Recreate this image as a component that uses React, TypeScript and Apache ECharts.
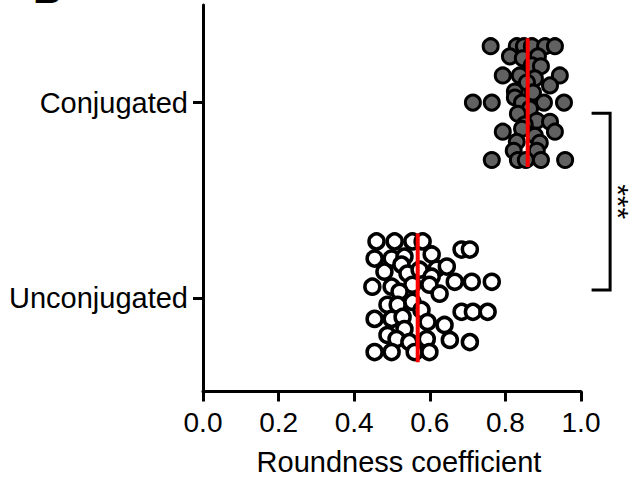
import React, { useEffect, useRef } from "react";
import * as echarts from "echarts";

// Categories (y positions: 0 = Unconjugated, 1 = Conjugated)
const categories = ["Unconjugated", "Conjugated"];

// Conjugated: roundness values and vertical scatter positions
const conjugatedValues = [
  0.761, 0.83, 0.849, 0.87, 0.905, 0.931, 0.812, 0.846, 0.886, 0.87, 0.894,
  0.793, 0.838, 0.878, 0.944, 0.857, 0.918, 0.825, 0.873, 0.714, 0.764,
  0.825, 0.844, 0.902, 0.955, 0.865, 0.833, 0.883, 0.918, 0.851, 0.793,
  0.844, 0.878, 0.931, 0.83, 0.891, 0.822, 0.883, 0.764, 0.833, 0.854,
  0.894, 0.958,
];
const conjugatedPos = [
  1.289, 1.289, 1.289, 1.289, 1.289, 1.289, 1.237, 1.227, 1.237, 1.191, 1.186,
  1.139, 1.139, 1.124, 1.139, 1.103, 1.088, 1.057, 1.052, 1.0, 1.0, 1.026,
  1.0, 1.0, 1.0, 0.969, 0.943, 0.907, 0.902, 0.887, 0.851, 0.866, 0.83,
  0.851, 0.799, 0.794, 0.753, 0.753, 0.706, 0.706, 0.706, 0.706, 0.706,
];

// Unconjugated: roundness values and vertical scatter positions
const unconjugatedValues = [
  0.459, 0.507, 0.554, 0.581, 0.684, 0.706, 0.454, 0.499, 0.533, 0.605, 0.525,
  0.618, 0.645, 0.48, 0.541, 0.573, 0.605, 0.448, 0.499, 0.554, 0.599, 0.666,
  0.711, 0.764, 0.52, 0.626, 0.488, 0.515, 0.554, 0.578, 0.684, 0.714, 0.753,
  0.454, 0.499, 0.528, 0.594, 0.639, 0.533, 0.488, 0.512, 0.592, 0.546,
  0.653, 0.706, 0.454, 0.499, 0.56, 0.599,
];
const unconjugatedPos = [
  0.289, 0.289, 0.289, 0.289, 0.247, 0.247, 0.201, 0.201, 0.211, 0.222, 0.17,
  0.149, 0.16, 0.134, 0.124, 0.144, 0.108, 0.057, 0.057, 0.067, 0.067, 0.082,
  0.082, 0.082, 0.031, 0.021, -0.036, -0.036, -0.021, -0.062, -0.072, -0.072,
  -0.072, -0.108, -0.108, -0.098, -0.124, -0.139, -0.16, -0.191, -0.211,
  -0.211, -0.227, -0.216, -0.227, -0.278, -0.278, -0.278, -0.278,
];

// Mean lines (value, category position)
const meanValues = [0.568, 0.859];
const meanHalfSpan = 0.33;

// X tick labels
const xTicks = [0, 0.2, 0.4, 0.6, 0.8, 1.0];

// Significance bracket
const bracketX = [1.028, 1.077];
const bracketY = [0.04, 0.945];
const starsX = 1.1;
const significance = "***";

const FONT = "'Liberation Sans', Arial, Helvetica, sans-serif";

export default function App() {
  const ref = useRef<HTMLDivElement>(null);

  useEffect(() => {
    if (!ref.current) return;
    const chart = echarts.init(ref.current, undefined, { renderer: "svg" });

    const conjData = conjugatedValues.map((v, i) => [v, conjugatedPos[i]]);
    const unconjData = unconjugatedValues.map((v, i) => [v, unconjugatedPos[i]]);

    const meanSeries = meanValues.map((m, i) => ({
      type: "line",
      data: [
        [m, i - meanHalfSpan],
        [m, i + meanHalfSpan],
      ],
      symbol: "none",
      lineStyle: { color: "#ff0000", width: 4 },
      z: 5,
      silent: true,
    }));

    chart.setOption({
      animation: false,
      backgroundColor: "#ffffff",
      grid: { left: 203, right: 51, top: 5, bottom: 96.5, containLabel: false },
      xAxis: {
        type: "value",
        min: 0,
        max: 1,
        interval: 0.2,
        axisLine: { show: true, onZero: false, lineStyle: { color: "#000", width: 3 } },
        axisTick: { show: true, length: 10, lineStyle: { color: "#000", width: 3 } },
        axisLabel: {
          fontSize: 28,
          color: "#000",
          fontFamily: FONT,
          margin: 17,
          formatter: (v: number) => {
            const t = xTicks.find((x) => Math.abs(x - v) < 1e-6);
            return t === undefined ? "" : t.toFixed(1);
          },
        },
        splitLine: { show: false },
        name: "Roundness coefficient",
        nameLocation: "middle",
        nameGap: 56,
        nameTextStyle: {
          fontSize: 29,
          color: "#000",
          fontFamily: FONT,
          padding: [0, 0, 0, 14],
        },
      },
      yAxis: {
        type: "value",
        min: -0.48,
        max: 1.5,
        axisLine: { show: true, onZero: false, lineStyle: { color: "#000", width: 3 } },
        axisTick: {
          show: true,
          length: 10,
          customValues: [0, 1],
          lineStyle: { color: "#000", width: 3 },
        },
        axisLabel: {
          show: true,
          customValues: [0, 1],
          fontSize: 29,
          color: "#000",
          fontFamily: FONT,
          margin: 15,
          formatter: (v: number) => categories[Math.round(v)] ?? "",
        },
        splitLine: { show: false },
      },
      series: [
        {
          type: "scatter",
          data: conjData,
          symbol: "circle",
          symbolSize: 15,
          itemStyle: { color: "#616161", borderColor: "#000", borderWidth: 3, opacity: 1 },
          z: 2,
        },
        {
          type: "scatter",
          data: unconjData,
          symbol: "circle",
          symbolSize: 15,
          itemStyle: { color: "#ffffff", borderColor: "#000", borderWidth: 3.5, opacity: 1 },
          z: 2,
        },
        ...meanSeries,
      ],
    });

    const px = (x: number, y: number) =>
      chart.convertToPixel({ gridIndex: 0 }, [x, y]) as number[];
    const a = px(bracketX[0], bracketY[1]);
    const b = px(bracketX[1], bracketY[1]);
    const c = px(bracketX[1], bracketY[0]);
    const d = px(bracketX[0], bracketY[0]);
    const s = px(starsX, (bracketY[0] + bracketY[1]) / 2);

    chart.setOption({
      graphic: [
        {
          id: "letterB",
          type: "text",
          x: 33,
          y: -31,
          style: {
            text: "B",
            fontSize: 40,
            fontWeight: "bold",
            fontFamily: FONT,
            fill: "#000",
          },
        },
        {
          id: "bracket",
          type: "polyline",
          shape: { points: [a, b, c, d] },
          style: { stroke: "#000", lineWidth: 3, fill: null },
          silent: true,
        },
        {
          id: "stars",
          type: "text",
          x: s[0],
          y: s[1],
          rotation: -Math.PI / 2,
          style: {
            text: significance,
            fontSize: 30,
            lineHeight: 20,
            fontFamily: FONT,
            fill: "#000",
            textAlign: "center",
            textVerticalAlign: "middle",
          },
        },
      ],
    });

    return () => chart.dispose();
  }, []);

  return (
    <div
      ref={ref}
      style={{ position: "absolute", left: 0, top: 0, width: 632, height: 488 }}
    />
  );
}
